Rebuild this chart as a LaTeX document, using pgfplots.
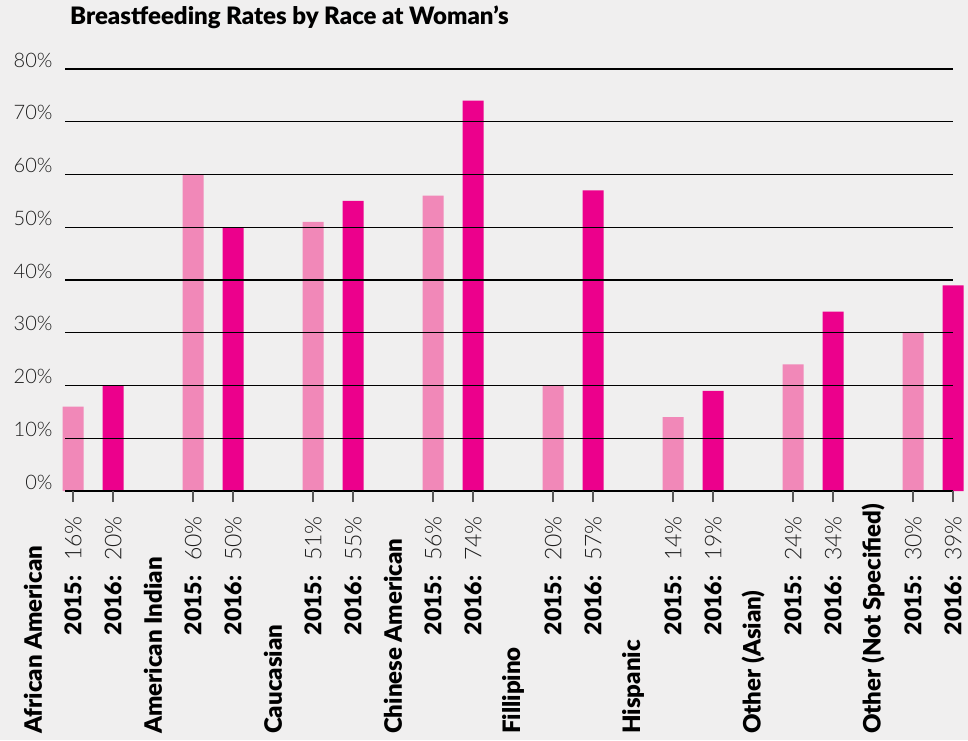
\documentclass[border=0pt]{standalone}
\usepackage{fontspec}
\setmainfont{Lato}
\newfontfamily\blackfont{Lato Black}
\newfontfamily\lightfont{Lato Light}
\usepackage{pgfplots}
\pgfplotsset{compat=1.18}

\definecolor{bg}{RGB}{240,239,239}
\definecolor{pinkA}{RGB}{241,136,184}
\definecolor{pinkB}{RGB}{236,0,140}
\definecolor{txt}{RGB}{30,30,30}

% year label: bold year, light value
\newcommand{\yl}[2]{{\blackfont\color{black}#1:}\hspace{15pt}{\lightfont\color{txt}#2\%}}

\begin{document}
\begin{tikzpicture}[x=1pt,y=1pt]
\fill[bg] (0,0) rectangle (968,740);
\node[anchor=base west, inner sep=0pt, font=\blackfont\fontsize{24}{28}\selectfont]
  at (70,715) {Breastfeeding Rates by Race at Woman’s};
\begin{axis}[
    at={(65pt,249pt)}, anchor=south west,
    scale only axis, width=888pt, height=422pt,
    xmin=0.8, xmax=23, ymin=0, ymax=80,
    clip=false, axis on top,
    axis line style={draw=none},
    ybar, bar width=21pt,
    ytick={0,10,...,80},
    yticklabel={\pgfmathprintnumber{\tick}\%},
    yticklabel style={font=\lightfont\fontsize{20}{24}\selectfont, text=txt, yshift=9pt, xshift=2pt},
    /pgf/number format/assume math mode=true,
    ytick style={draw=none},
    ymajorgrids, grid style={black, line width=1.3pt},
    tick pos=left, tick align=outside, major tick length=11pt,
    xtick={1,2,4,5,7,8,10,11,13,14,16,17,19,20,22,23},
    xtick style={draw=black!65, line width=1.6pt},
    xticklabels={\yl{2015}{16},\yl{2016}{20},\yl{2015}{60},\yl{2016}{50},
                 \yl{2015}{51},\yl{2016}{55},\yl{2015}{56},\yl{2016}{74},
                 \yl{2015}{20},\yl{2016}{57},\yl{2015}{14},\yl{2016}{19},
                 \yl{2015}{24},\yl{2016}{34},\yl{2015}{30},\yl{2016}{39}},
    xticklabel style={rotate=90, anchor=east, inner sep=0pt, font=\fontsize{23}{27}\selectfont},
    xticklabel shift=14pt,
]
\addplot[fill=pinkA, draw=none, bar shift=0pt] coordinates {
    (1,16) (4,60) (7,51) (10,56) (13,20) (16,14) (19,24) (22,30)
};
\addplot[fill=pinkB, draw=none, bar shift=0pt] coordinates {
    (2,20) (5,50) (8,55) (11,74) (14,57) (17,19) (20,34) (23,39)
};
\tikzset{grp/.style={yshift=-243pt, rotate=90, anchor=west, inner sep=0pt, font=\blackfont\fontsize{24}{28}\selectfont}}
\node[grp] at (axis cs:0,0)  {African American};
\node[grp] at (axis cs:3,0)  {American Indian};
\node[grp] at (axis cs:6,0)  {Caucasian};
\node[grp] at (axis cs:9,0)  {Chinese American};
\node[grp] at (axis cs:12,0) {Fillipino};
\node[grp] at (axis cs:15,0) {Hispanic};
\node[grp] at (axis cs:18,0) {Other (Asian)};
\node[grp] at (axis cs:21,0) {Other (Not Specified)};
\end{axis}
\end{tikzpicture}
\end{document}
